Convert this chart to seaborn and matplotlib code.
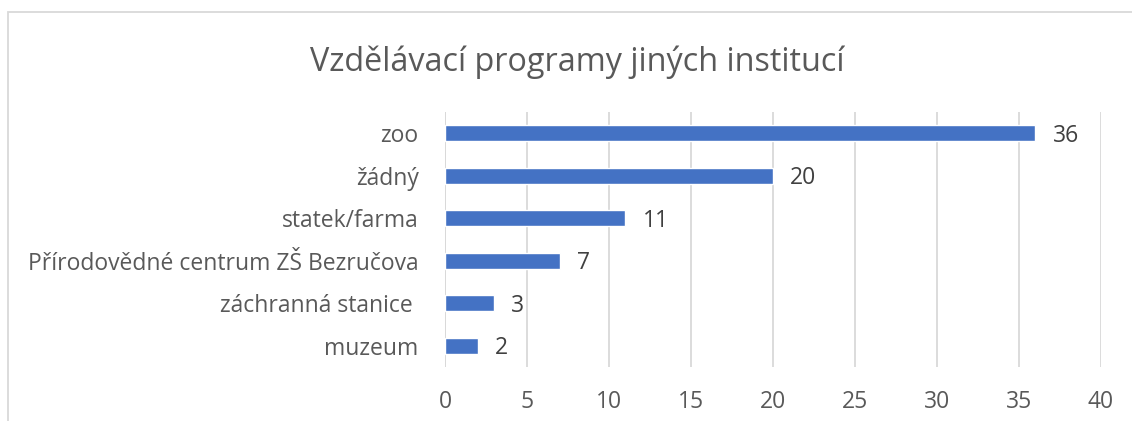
import matplotlib
matplotlib.use("Agg")
import matplotlib.pyplot as plt
import seaborn as sns
import pandas as pd
from matplotlib.patches import Rectangle

# data
kategorie = ["zoo", "žádný", "statek/farma", "Přírodovědné centrum ZŠ Bezručova",
             "záchranná stanice ", "muzeum"]
pocty = [36, 20, 11, 7, 3, 2]
x_ticks = [0, 5, 10, 15, 20, 25, 30, 35, 40]

tabela = pd.DataFrame({"kategorie": kategorie, "pocet": pocty})

sns.set_style("white")
plt.rcParams["font.family"] = ["Open Sans", "DejaVu Sans"]

fig = plt.figure(figsize=(11.32, 4.21), dpi=100)
ax = fig.add_axes([445 / 1132, 1 - 367 / 421, 656 / 1132, 255 / 421])

sns.barplot(data=tabela, x="pocet", y="kategorie", color="#4472C4",
            width=0.37, saturation=1, ax=ax, zorder=3)

ax.set_xlim(0, 40)
ax.set_xticks(x_ticks)
ax.set_ylim(5.5, -0.5)
ax.grid(axis="x", color="#D9D9D9", linewidth=1.3, zorder=0)
ax.set_axisbelow(True)
for s in ax.spines.values():
    s.set_visible(False)
ax.axvline(0, color="#D9D9D9", linewidth=1.3, zorder=1)
ax.set_xlabel("")
ax.set_ylabel("")
ax.tick_params(axis="both", length=0, labelsize=16.5, labelcolor="#595959")
ax.tick_params(axis="x", pad=16.5)
ax.tick_params(axis="y", pad=19)

for i, v in enumerate(pocty):
    ax.text(v + 1.05, i + 0.06, str(v), va="center", ha="left", fontsize=16.5, color="#404040")

fig.text(577 / 1132, 1 - 71 / 421, "Vzdělávací programy jiných institucí",
         ha="center", va="baseline", fontsize=23.3, color="#595959")

# ramecek grafu
fig.patches.append(Rectangle((8 / 1132, -0.1), 1.2, 1 - 12 / 421 + 0.1,
                             transform=fig.transFigure, fill=False,
                             edgecolor="#D9D9D9", linewidth=1.3))

fig.savefig("out.png", dpi=100, facecolor="white")
